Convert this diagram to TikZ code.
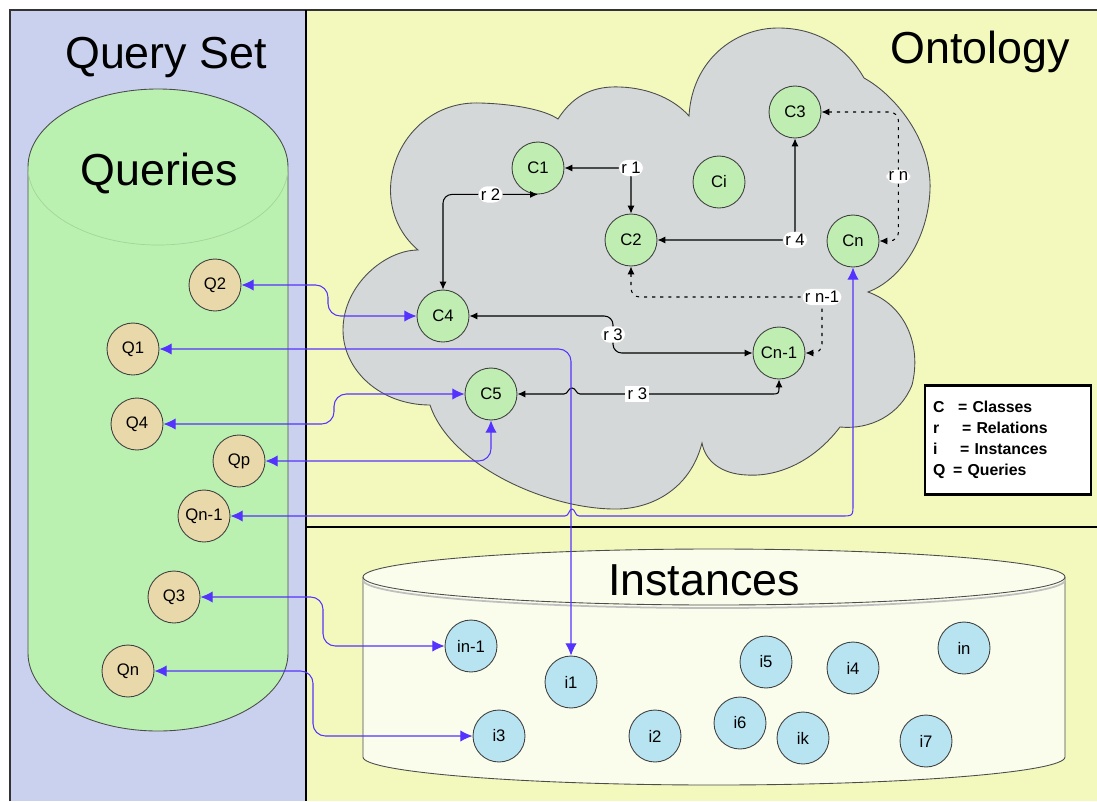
\documentclass[tikz,border=0pt]{standalone}
\usepackage{fontspec}
\setmainfont{Liberation Sans}
\usetikzlibrary{arrows.meta}

\definecolor{qsetbg}{RGB}{202,209,238}
\definecolor{ontobg}{RGB}{243,249,189}
\definecolor{cloudbg}{RGB}{212,216,216}
\definecolor{querybg}{RGB}{186,241,176}
\definecolor{instbg}{RGB}{250,253,235}
\definecolor{clsfill}{RGB}{192,238,178}
\definecolor{qryfill}{RGB}{232,216,170}
\definecolor{instfill}{RGB}{184,228,242}
\definecolor{linkblue}{RGB}{85,51,255}

\begin{document}
\begin{tikzpicture}[x=0.02cm, y=-0.02cm,
    paneltitle/.style={anchor=base, font=\fontsize{25.5}{30}\selectfont},
    dotrel/.style={dash pattern=on 1.8pt off 2.8pt}]
\useasboundingbox (0,0) rectangle (1097,801);

% panels
\fill[qsetbg] (10,10) rectangle (306,801);
\fill[ontobg] (306,10) rectangle (1097,801);
\draw[black!80, line width=0.7pt] (10,801) -- (10,10) -- (1097,10);
\draw[line width=1.2pt] (306,10) -- (306,801);
\draw[line width=1.2pt] (306,527) -- (1097,527);

% query cylinder
\draw[fill=querybg, draw=black!70, line width=0.5pt]
    (28,167) -- (28,653) .. controls (28,696) and (86,731) .. (158,731)
    .. controls (230,731) and (288,696) .. (288,653) -- (288,167)
    .. controls (288,124) and (230,89) .. (158,89)
    .. controls (86,89) and (28,124) .. (28,167) -- cycle;
\draw[querybg!88!black, line width=0.4pt]
    (28,167) .. controls (28,210) and (86,245) .. (158,245)
    .. controls (230,245) and (288,210) .. (288,167);

% instance cylinder
\draw[fill=instbg, draw=black!70, line width=0.5pt]
    (363,577) -- (363,757) .. controls (363,772) and (520,785) .. (714,785)
    .. controls (908,785) and (1065,772) .. (1065,757) -- (1065,577)
    .. controls (1065,562) and (908,549) .. (714,549)
    .. controls (520,549) and (363,562) .. (363,577) -- cycle;
\draw[black!25, line width=1pt]
    (363,580) .. controls (363,595) and (520,608) .. (714,608)
    .. controls (908,608) and (1065,595) .. (1065,580);
\draw[black!70, line width=0.5pt]
    (363,577) .. controls (363,592) and (520,605) .. (714,605)
    .. controls (908,605) and (1065,592) .. (1065,577);

% ontology cloud
\draw[fill=cloudbg, draw=black!70, line width=0.5pt]
    (418,250) .. controls (360,200) and (400,100) .. (480,103)
    .. controls (515,104) and (545,110) .. (558,119)
    .. controls (575,92) and (598,86) .. (620,87)
    .. controls (650,88) and (675,100) .. (689,116)
    .. controls (692,60) and (735,28) .. (778,28)
    .. controls (815,28) and (845,45) .. (864,78)
    .. controls (895,95) and (932,140) .. (930,190)
    .. controls (928,240) and (900,280) .. (868,292)
    .. controls (905,305) and (922,345) .. (912,385)
    .. controls (900,415) and (870,430) .. (840,427)
    .. controls (815,460) and (780,477) .. (747,475)
    .. controls (720,474) and (705,460) .. (702,443)
    .. controls (690,490) and (650,510) .. (613,509)
    .. controls (545,508) and (450,465) .. (430,405)
    .. controls (380,405) and (343,370) .. (343,330)
    .. controls (343,285) and (385,250) .. (418,250) -- cycle;

\node[paneltitle] (qsettitle) at (166,68) {Query Set};
\node[paneltitle] (ontotitle) at (980,63) {Ontology};
\node[paneltitle] (qtitle) at (159,185) {Queries};
\node[paneltitle] (insttitle) at (704,595) {Instances};

\begin{scope}[every node/.style={circle,draw=black!75,line width=0.5pt,minimum size=1.04cm,inner sep=0pt,font=\fontsize{9.5}{11}\selectfont}]
    \node (C1) at (538, 168) [fill=clsfill] {C1};
    \node (C2) at (631, 240) [fill=clsfill] {C2};
    \node (Ci) at (719, 182) [fill=clsfill] {Ci};
    \node (C3) at (795, 112) [fill=clsfill] {C3};
    \node (Cn) at (853, 241) [fill=clsfill] {Cn};
    \node (C4) at (443, 316) [fill=clsfill] {C4};
    \node (Cn1) at (779, 353) [fill=clsfill] {Cn-1};
    \node (C5) at (491, 394) [fill=clsfill] {C5};

    \node (Q2) at (215, 285) [fill=qryfill] {Q2};
    \node (Q1) at (133, 349) [fill=qryfill] {Q1};
    \node (Q4) at (137, 424) [fill=qryfill] {Q4};
    \node (Qp) at (239, 461) [fill=qryfill] {Qp};
    \node (Qn1) at (204, 516) [fill=qryfill] {Qn-1};
    \node (Q3) at (174, 597) [fill=qryfill] {Q3};
    \node (Qn) at (128, 671) [fill=qryfill] {Qn};

    \node (inm1) at (471, 646) [fill=instfill] {in-1};
    \node (i1) at (571, 682) [fill=instfill] {i1};
    \node (i3) at (499, 736) [fill=instfill] {i3};
    \node (i2) at (655, 736) [fill=instfill] {i2};
    \node (i6) at (740, 723) [fill=instfill] {i6};
    \node (i5) at (766, 662) [fill=instfill] {i5};
    \node (ik) at (803, 738) [fill=instfill] {ik};
    \node (i4) at (853, 668) [fill=instfill] {i4};
    \node (in) at (964, 648) [fill=instfill] {in};
    \node (i7) at (926, 741) [fill=instfill] {i7};
\end{scope}

\begin{scope}[>={Latex[length=4.5pt,width=4pt]}, line width=0.6pt, rounded corners=5pt,
              every node/.style={fill=white,inner sep=1.3pt,font=\fontsize{9.5}{11}\selectfont}]
    \draw [<->] (C1.east) -| node {r 1} (C2.north);
    \draw [<->] (C4.north) |- node[pos=0.75] {r 2} (C1.south);
    \draw [<->] (C2.east) -| node {r 4} (C3.south);
    \draw [<->, dotrel] (C3.east) -- ++(77,0) |- node[pos=0.25] {r n} (Cn.east);
    \draw [<->, dotrel] (C2.south) |- (822,297) node {r n-1} |- (Cn1.east);
    \draw [<->] (C4.east) -| node[pos=0.75] {r 3} (613,353) -- (Cn1.west);
    % jumps over the blue link
    \draw [<->, sharp corners] (Cn1.south) -- (779,386) .. controls (779,394) .. (771,394)
        -- node[pos=0.7] {r 3} (580,394)
        .. controls (576,394) and (576,388) .. (572,388)
        .. controls (568,388) and (568,394) .. (564,394) -- (C5.east);
\end{scope}

\begin{scope}[>={Latex[length=7pt,width=6.5pt]}, color=linkblue, line width=0.6pt, rounded corners=7pt]
    \draw [<->] (Q2.east) -| (328,316) -- (C4.west);
    \draw [<->] (Q1.east) -| (i1.north);
    \draw [<->] (Q4.east) -| (334,394) -- (C5.west);
    \draw [<->] (Qp.east) -| (C5.south);
    \draw [<->, sharp corners] (Qn1.east) -- (565,516) .. controls (569,516) and (569,509) .. (572,509)
        .. controls (575,509) and (575,516) .. (579,516) -- (841,516)
        .. controls (853,516) .. (853,504) -- (Cn.south);
    \draw [<->] (Q3.east) -| (323,646) -- (inm1.west);
    \draw [<->] (Qn.east) -| (313,736) -- (i3.west);
\end{scope}

% key
\node (key) at (1008, 440) [draw=black, line width=1.5pt, fill=white, text width=3.0cm,
    align=left, inner xsep=0.16cm, inner ysep=0pt, minimum height=2.18cm,
    font=\bfseries\fontsize{9}{11.9}\selectfont]
    {\makebox[0.5cm][l]{C}= Classes\\
     \makebox[0.58cm][l]{r}= Relations\\
     \makebox[0.54cm][l]{i}= Instances\\
     \makebox[0.4cm][l]{Q}= Queries};
\end{tikzpicture}
\end{document}
